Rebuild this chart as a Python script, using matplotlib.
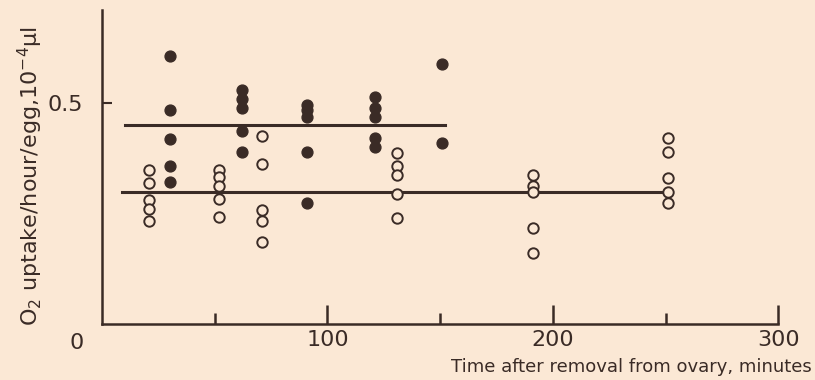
import numpy as np
import matplotlib
matplotlib.use("Agg")
import matplotlib.pyplot as plt

# 黒丸 (filled) と白丸 (open) の測定値
filled_t = [30, 62, 91, 121, 151]
filled_y = [
    [0.605, 0.483, 0.419, 0.358, 0.322],
    [0.529, 0.509, 0.488, 0.437, 0.388],
    [0.495, 0.483, 0.469, 0.388, 0.273],
    [0.513, 0.488, 0.469, 0.420, 0.401],
    [0.588, 0.409],
]
open_t = [21, 52, 71, 131, 191, 251]
open_y = [
    [0.348, 0.319, 0.281, 0.260, 0.233],
    [0.348, 0.333, 0.311, 0.283, 0.243],
    [0.424, 0.362, 0.258, 0.233, 0.185],
    [0.386, 0.358, 0.337, 0.294, 0.239],
    [0.336, 0.313, 0.298, 0.217, 0.160],
    [0.420, 0.388, 0.330, 0.299, 0.274],
]
# 平均線: (開始, 終了, 値)
mean_lines = [(10, 152, 0.450), (9, 248, 0.299)]

xticks_major = [100, 200, 300]
xticks_minor = [50, 150, 250]

bg = "#fbe8d5"
ink = "#3a2b26"
plt.rcParams["font.family"] = ["DejaVu Sans"]

fig = plt.figure(figsize=(8.15, 3.8), dpi=100, facecolor=bg)
ax = fig.add_axes([102 / 815, 56 / 380, 2.254 * 315 / 815, 314 / 380])
ax.set_facecolor(bg)

for x0, x1, v in mean_lines:
    ax.plot([x0, x1], [v, v], color=ink, lw=2.2, zorder=1)

for t, ys in zip(filled_t, filled_y):
    ax.plot([t] * len(ys), ys, "o", ms=7.8, color=ink, mec=ink, zorder=3)
for t, ys in zip(open_t, open_y):
    ax.plot([t] * len(ys), ys, "o", ms=7.5, mfc=bg, mec=ink, mew=1.4, zorder=3)

ax.set_xlim(0, 315)
ax.set_ylim(0, 0.71)
ax.spines["top"].set_visible(False)
ax.spines["right"].set_visible(False)
ax.spines["bottom"].set_bounds(0, 300)
for s in ("left", "bottom"):
    ax.spines[s].set_color(ink)
    ax.spines[s].set_linewidth(1.8)

ax.set_xticks(xticks_major)
ax.set_xticklabels([str(v) for v in xticks_major])
ax.set_xticks(xticks_minor, minor=True)
ax.tick_params(axis="x", which="major", direction="in", length=14, width=1.8,
               color=ink, labelcolor=ink, labelsize=16, pad=4)
ax.tick_params(axis="x", which="minor", direction="in", length=8, width=1.8, color=ink)
ax.set_yticks([0.5])
ax.set_yticklabels(["0.5"])
ax.tick_params(axis="y", direction="in", length=7, width=1.5, color=ink,
               labelcolor=ink, labelsize=16, pad=14)

ax.text(-8, -0.02, "0", ha="right", va="top", fontsize=16, color=ink,
        transform=ax.transData, clip_on=False)

fig.text(30 / 815, 1 - 176 / 380, "O$_2$ uptake/hour/egg,10$^{-4}$μl", rotation=90,
         ha="center", va="center", fontsize=16, color=ink)
fig.text(812 / 815, 1 - 367 / 380, "Time after removal from ovary, minutes",
         ha="right", va="center", fontsize=13, color=ink)

fig.savefig("out.png", dpi=100, facecolor=bg)
